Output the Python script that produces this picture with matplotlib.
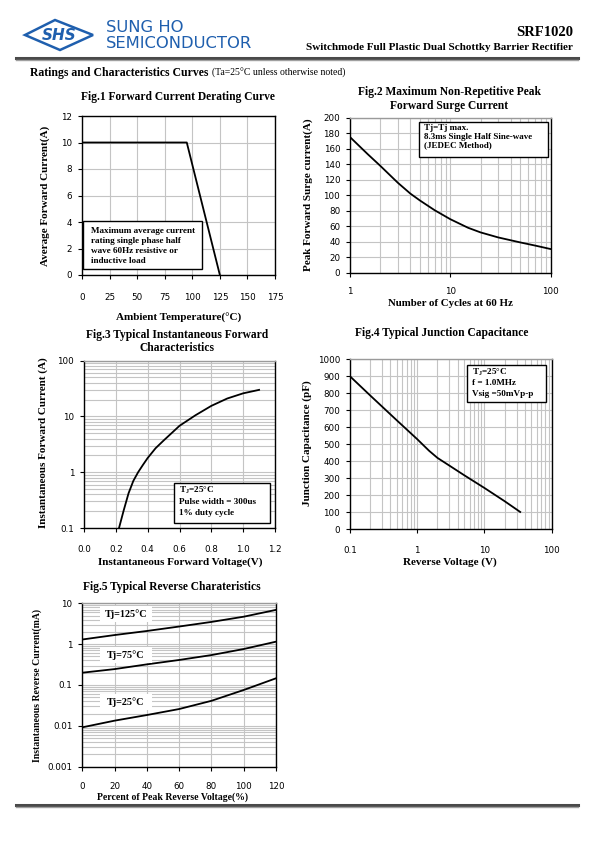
import matplotlib
matplotlib.use('Agg')
import matplotlib.pyplot as plt
from matplotlib.patches import Rectangle, Polygon
from matplotlib.lines import Line2D
from matplotlib.ticker import FixedLocator, NullFormatter

plt.rcParams['mathtext.fontset'] = 'custom'
plt.rcParams['mathtext.rm'] = 'Liberation Serif:bold'
plt.rcParams['mathtext.it'] = 'Liberation Serif:bold'
plt.rcParams['mathtext.bf'] = 'Liberation Serif:bold'

# ---------------- data ----------------
fig1_temp = [0, 95, 125]
fig1_current = [10, 10, 0]

fig2_cycles = [1, 1.5, 2, 3, 4, 5, 7, 10, 15, 20, 30, 50, 70, 100]
fig2_current = [175, 153, 138, 116, 102, 93, 80.5, 69, 58, 52, 45.5, 39, 35, 30.5]

fig3_voltage = [0.22, 0.25, 0.28, 0.31, 0.34, 0.37, 0.40, 0.45, 0.50, 0.60, 0.70, 0.80, 0.90, 1.00, 1.10]
fig3_current = [0.1, 0.21, 0.42, 0.7, 1.0, 1.35, 1.8, 2.7, 3.7, 6.8, 10.5, 15.5, 21, 26, 30]

fig4_voltage = [0.1, 0.2, 0.3, 0.5, 1, 1.5, 2, 3, 5, 10, 20, 34]
fig4_cap = [900, 787, 722, 640, 530, 462, 420, 375, 318, 243, 165, 102]

fig5_percent = [0, 20, 40, 60, 80, 100, 120]
fig5_ir_125 = [1.3, 1.67, 2.1, 2.7, 3.5, 4.7, 6.9]
fig5_ir_75 = [0.2, 0.245, 0.32, 0.41, 0.54, 0.76, 1.15]
fig5_ir_25 = [0.0092, 0.0134, 0.0184, 0.0258, 0.041, 0.0755, 0.146]
fig5_labels = ['Tj=125°C', 'Tj=75°C', 'Tj=25°C']

fig1_xticks = [0, 25, 50, 75, 100, 125, 150, 175]
fig1_yticks = [0, 2, 4, 6, 8, 10, 12]
fig2_xticks = [1, 10, 100]
fig2_yticks = list(range(0, 201, 20))
fig3_xticks = [0.0, 0.2, 0.4, 0.6, 0.8, 1.0, 1.2]
fig3_yticks = [0.1, 1, 10, 100]
fig4_xticks = [0.1, 1, 10, 100]
fig4_yticks = list(range(0, 1001, 100))
fig5_xticks = [0, 20, 40, 60, 80, 100, 120]
fig5_yticks = [0.001, 0.01, 0.1, 1, 10]

# ---------------- layout helpers ----------------
W, H = 595, 842
fig = plt.figure(figsize=(W / 100, H / 100), dpi=100)
fig.patch.set_facecolor('white')

SERIF = 'Liberation Serif'
SANS = 'DejaVu Sans'
GRID = '#c4c4c4'
TICKFS = 6.3


def fx(x):
    return x / W


def fy(y):
    return 1 - y / H


def txt(x, y, s, size=8, weight='bold', family=SERIF, ha='center', va='center', **kw):
    return fig.text(fx(x), fy(y), s, fontsize=size, fontweight=weight,
                    family=family, ha=ha, va=va, **kw)


def box(x0, y0, x1, y1, edge='black', lw=1.0):
    r = Rectangle((fx(x0), fy(y1)), (x1 - x0) / W, (y1 - y0) / H,
                  transform=fig.transFigure, facecolor='white',
                  edgecolor=edge, lw=lw, zorder=10)
    fig.add_artist(r)


def add_ax(x0, y0, x1, y1, xpad=10):
    ax = fig.add_axes([fx(x0), fy(y1), (x1 - x0) / W, (y1 - y0) / H])
    for s in ax.spines.values():
        s.set_linewidth(1.0)
        s.set_color('black')
    ax.tick_params(labelsize=TICKFS, length=3, width=0.8, direction='out')
    ax.tick_params(axis='x', pad=xpad)
    ax.tick_params(axis='y', pad=4)
    ax.set_axisbelow(True)
    return ax


def set_ticks(ax, xt, yt, xl, yl):
    ax.xaxis.set_major_locator(FixedLocator(xt))
    ax.yaxis.set_major_locator(FixedLocator(yt))
    ax.set_xticklabels(xl, family=SANS, fontsize=TICKFS)
    ax.set_yticklabels(yl, family=SANS, fontsize=TICKFS)


def multiline(x, y, lines, dy, size=6.6):
    for i, l in enumerate(lines):
        t = txt(x, y + i * dy, l, size=size, ha='left', va='center')
        t.set_zorder(11)


# ---------------- header ----------------
BLUE = '#1f5fae'
logo = Polygon([(fx(25), fy(35)), (fx(55), fy(20)), (fx(93), fy(35)), (fx(60), fy(50))],
               closed=True, transform=fig.transFigure, facecolor='white',
               edgecolor=BLUE, lw=1.8)
fig.add_artist(logo)
txt(59, 35.5, 'SHS', size=11, family=SANS, color=BLUE, style='italic')
txt(106, 28, 'SUNG HO', size=11.8, weight='normal', family=SANS, color=BLUE, ha='left')
txt(106, 44, 'SEMICONDUCTOR', size=11.8, weight='normal', family=SANS, color=BLUE, ha='left')
txt(573, 33, 'SRF1020', size=10.5, ha='right')
txt(573, 47, 'Switchmode Full Plastic Dual Schottky Barrier Rectifier', size=8, ha='right')
fig.add_artist(Line2D([fx(16), fx(578)], [fy(57.5), fy(57.5)], color='#4a4a4a', lw=2.2,
                      transform=fig.transFigure))
fig.add_artist(Line2D([fx(16), fx(578)], [fy(60), fy(60)], color='#a0a0a0', lw=1.0,
                      transform=fig.transFigure))
txt(30, 73, 'Ratings and Characteristics Curves', size=8.5, ha='left')
txt(212, 73.5, '(Ta=25°C unless otherwise noted)', size=7, weight='normal', ha='left')

fig.add_artist(Line2D([fx(16), fx(578)], [fy(804.5), fy(804.5)], color='#4a4a4a', lw=2.2,
                      transform=fig.transFigure))
fig.add_artist(Line2D([fx(16), fx(578)], [fy(807), fy(807)], color='#a0a0a0', lw=1.0,
                      transform=fig.transFigure))

# ---------------- Fig.1 ----------------
ax1 = add_ax(82, 116, 275, 275)
ax1.plot(fig1_temp, fig1_current, color='black', lw=1.3)
ax1.set_xlim(0, 175)
ax1.set_ylim(0, 12)
set_ticks(ax1, fig1_xticks, fig1_yticks, [str(v) for v in fig1_xticks], [str(v) for v in fig1_yticks])
ax1.grid(True, color=GRID, lw=0.8)
txt(178, 97, 'Fig.1 Forward Current Derating Curve', size=8.3)
txt(179, 318, 'Ambient Temperature(°C)', size=8)
txt(45, 196, 'Average Forward Current(A)', size=8, rotation=90)
box(83, 221, 202, 269)
multiline(91, 230.5, ['Maximum average current', 'rating single phase half',
                      'wave 60Hz resistive or', 'inductive load'], 10.2)

# ---------------- Fig.2 ----------------
ax2 = add_ax(350, 117.7, 550.7, 272.7, xpad=7)
ax2.plot(fig2_cycles, fig2_current, color='black', lw=1.3)
ax2.set_xscale('log')
ax2.set_xlim(1, 100)
ax2.set_ylim(0, 200)
set_ticks(ax2, fig2_xticks, fig2_yticks, ['1', '10', '100'], [str(v) for v in fig2_yticks])
ax2.xaxis.set_minor_locator(FixedLocator([m * d for d in (1, 10) for m in range(2, 10)]))
ax2.xaxis.set_minor_formatter(NullFormatter())
ax2.tick_params(axis='x', which='minor', length=0)
ax2.grid(True, which='both', color=GRID, lw=0.8)
ax2.spines['top'].set_color('#9a9a9a')
txt(449, 92.5, 'Fig.2 Maximum Non-Repetitive Peak', size=8.3)
txt(449, 106.5, 'Forward Surge Current', size=8.3)
txt(450, 303, 'Number of Cycles at 60 Hz', size=7.8)
txt(308, 195, 'Peak Forward Surge current(A)', size=8, rotation=90)
box(419, 122, 548, 157)
multiline(424, 128, ['Tj=Tj max.', '8.3ms Single Half Sine-wave', '(JEDEC Method)'], 8.8, size=6.5)

# ---------------- Fig.3 ----------------
ax3 = add_ax(84, 360.7, 275, 528, xpad=9)
ax3.plot(fig3_voltage, fig3_current, color='black', lw=1.3)
ax3.set_yscale('log')
ax3.set_xlim(0, 1.2)
ax3.set_ylim(0.1, 100)
set_ticks(ax3, fig3_xticks, fig3_yticks, ['0.0', '0.2', '0.4', '0.6', '0.8', '1.0', '1.2'],
          ['0.1', '1', '10', '100'])
ax3.yaxis.set_minor_locator(FixedLocator([m * d for d in (0.1, 1, 10) for m in range(2, 10)]))
ax3.yaxis.set_minor_formatter(NullFormatter())
ax3.tick_params(axis='y', which='minor', length=0)
ax3.grid(True, which='both', color=GRID, lw=0.8)
ax3.spines['top'].set_color('#9a9a9a')
txt(177, 334.5, 'Fig.3 Typical Instantaneous Forward', size=8.3)
txt(177, 348, 'Characteristics', size=8.3)
txt(180, 562, 'Instantaneous Forward Voltage(V)', size=8)
txt(43, 443, 'Instantaneous Forward Current (A)', size=8, rotation=90)
box(174, 483, 270, 523)
multiline(179, 490, [r'T$_{\rm J}$=25°C', 'Pulse width = 300us', '1% duty cycle'], 11.5, size=6.6)

# ---------------- Fig.4 ----------------
ax4 = add_ax(350, 359.3, 551.7, 529.3, xpad=9)
ax4.plot(fig4_voltage, fig4_cap, color='black', lw=1.3)
ax4.set_xscale('log')
ax4.set_xlim(0.1, 100)
ax4.set_ylim(0, 1000)
set_ticks(ax4, fig4_xticks, fig4_yticks, ['0.1', '1', '10', '100'], [str(v) for v in fig4_yticks])
ax4.xaxis.set_minor_locator(FixedLocator([m * d for d in (0.1, 1, 10) for m in range(2, 10)]))
ax4.xaxis.set_minor_formatter(NullFormatter())
ax4.tick_params(axis='x', which='minor', length=0)
ax4.grid(True, which='both', color=GRID, lw=0.8)
ax4.spines['top'].set_color('#9a9a9a')
txt(442, 333, 'Fig.4 Typical Junction Capacitance', size=8.3)
txt(450, 562, 'Reverse Voltage (V)', size=8)
txt(307, 443, 'Junction Capacitance (pF)', size=8, rotation=90)
box(467, 365, 546, 402)
multiline(472, 372, [r'T$_{\rm J}$=25°C', 'f = 1.0MHz', 'Vsig =50mVp-p'], 11, size=6.6)

# ---------------- Fig.5 ----------------
ax5 = add_ax(82.3, 603.3, 276, 766.7, xpad=8)
for series in (fig5_ir_125, fig5_ir_75, fig5_ir_25):
    ax5.plot(fig5_percent, series, color='black', lw=1.3)
ax5.set_yscale('log')
ax5.set_xlim(0, 120)
ax5.set_ylim(0.001, 10)
set_ticks(ax5, fig5_xticks, fig5_yticks, [str(v) for v in fig5_xticks],
          ['0.001', '0.01', '0.1', '1', '10'])
ax5.yaxis.set_minor_locator(FixedLocator([m * d for d in (0.001, 0.01, 0.1, 1) for m in range(2, 10)]))
ax5.yaxis.set_minor_formatter(NullFormatter())
ax5.tick_params(axis='y', which='minor', length=0)
ax5.grid(True, which='both', color=GRID, lw=0.8)
ax5.spines['top'].set_color('#9a9a9a')
txt(172, 587, 'Fig.5 Typical Reverse Charateristics', size=8.3)
txt(172, 797, 'Percent of Peak Reverse Voltage(%)', size=7)
txt(37, 685, 'Instantaneous Reverse Current(mA)', size=7, rotation=90)
for lab, yc in zip(fig5_labels, (614, 655, 702)):
    box(100, yc - 8, 152, yc + 8, edge='white', lw=0)
    t = txt(126, yc, lab, size=7.3)
    t.set_zorder(11)

fig.savefig('out.png', dpi=100, facecolor='white')
